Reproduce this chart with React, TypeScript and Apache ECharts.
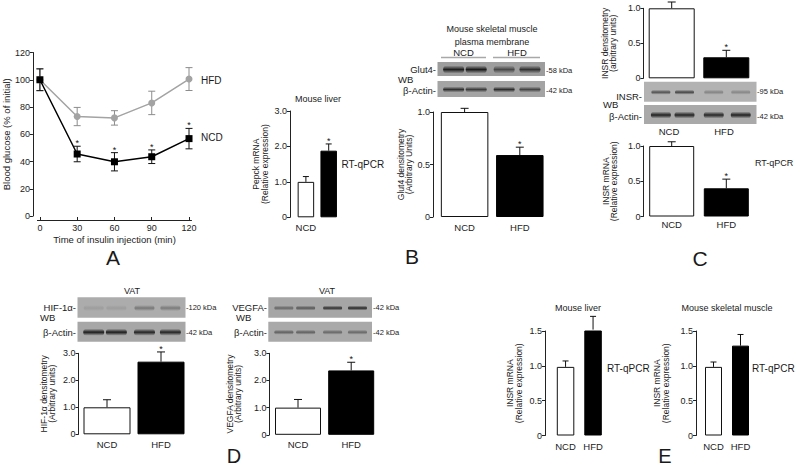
import React, { useEffect, useRef } from "react";
import * as echarts from "echarts";

const FONT = '"Liberation Sans", Arial, Helvetica, sans-serif';

// ---------- Panel A: insulin tolerance ----------
const timePoints = [0, 30, 60, 90, 120];
const timeTicks = [0, 30, 60, 90, 120];
const hfdGlucose = [100, 73, 72, 83, 100.5];
const hfdGlucoseSem = [8, 6.7, 5.3, 8.6, 8.4];
const ncdGlucose = [100, 45.5, 39.8, 43.5, 56.8];
const ncdGlucoseSem = [8, 5.7, 6.7, 5, 7.5];
const ncdGlucoseSig = [0, 1, 1, 1, 1];

// ---------- Bar panels ----------
const groups = ["NCD", "HFD"];
const pepckMean = [1.0, 1.88];
const pepckSem = [0.15, 0.19];
const pepckSig = [0, 1];
const glut4Mean = [1.0, 0.59];
const glut4Sem = [0.035, 0.075];
const glut4Sig = [0, 1];
const insrDensMean = [1.0, 0.3];
const insrDensSem = [0.09, 0.1];
const insrDensSig = [0, 1];
const insrMrnaMean = [1.0, 0.4];
const insrMrnaSem = [0.06, 0.13];
const insrMrnaSig = [0, 1];
const hifMean = [1.0, 2.69];
const hifSem = [0.28, 0.36];
const hifSig = [0, 1];
const vegfaMean = [1.0, 2.37];
const vegfaSem = [0.3, 0.3];
const vegfaSig = [0, 1];
const insrLiverMean = [0.985, 1.52];
const insrLiverSem = [0.085, 0.19];
const insrLiverSig = [0, 0];
const insrMuscleMean = [0.985, 1.29];
const insrMuscleSem = [0.07, 0.16];
const insrMuscleSig = [0, 0];

// ---------- Western blot band intensities (4 lanes: NCD, NCD, HFD, HFD) ----------
const laneFractions = [0.15, 0.36, 0.62, 0.86];
const glut4Bands = [0.92, 0.95, 0.62, 0.78];
const glut4ActinBands = [0.8, 0.72, 0.82, 0.66];
const insrBands = [0.62, 0.7, 0.3, 0.28];
const insrActinBands = [0.92, 0.9, 0.88, 0.92];
const hifBands = [0.1, 0.1, 0.35, 0.33];
const hifActinBands = [0.95, 0.95, 0.9, 0.9];
const vegfaBands = [0.45, 0.55, 0.82, 0.88];
const vegfaActinBands = [0.5, 0.5, 0.45, 0.45];

const fmt1 = (v: number) => (v === 0 ? "0" : v.toFixed(1));
const fmt0 = (v: number) => String(v);

function valueAxis(gridIndex: number, max: number, interval: number, offset: number, name: string, nameGap: number, formatter: any) {
  return {
    type: "value",
    gridIndex,
    min: 0,
    max,
    interval,
    offset,
    name,
    nameLocation: "middle",
    nameGap,
    nameRotate: 90,
    nameTextStyle: { fontFamily: FONT, fontSize: 8.5, color: "#222", lineHeight: 8.5 },
    axisLine: { show: true, onZero: false, lineStyle: { color: "#222", width: 1 } },
    axisTick: { show: true, length: 3, lineStyle: { color: "#222", width: 1 } },
    axisLabel: { fontFamily: FONT, fontSize: 9, color: "#222", margin: 3, formatter },
    splitLine: { show: false },
  };
}

function catAxis(gridIndex: number, showLabel: boolean, margin: number) {
  return {
    type: "category",
    gridIndex,
    data: groups,
    boundaryGap: true,
    axisLine: { show: false },
    axisTick: { show: false },
    axisLabel: { show: showLabel, margin, fontFamily: FONT, fontSize: 9.5, color: "#222" },
  };
}

function errRender(capHalf: number, color: string, twoSided: boolean) {
  return (params: any, api: any) => {
    const x = api.value(0);
    const lo = api.value(1);
    const hi = api.value(2);
    const star = api.value(3);
    const p0 = api.coord([x, lo]);
    const p1 = api.coord([x, hi]);
    const children: any[] = [
      { type: "line", shape: { x1: p0[0], y1: p0[1], x2: p1[0], y2: p1[1] }, style: { stroke: color, lineWidth: 1 } },
      { type: "line", shape: { x1: p1[0] - capHalf, y1: p1[1], x2: p1[0] + capHalf, y2: p1[1] }, style: { stroke: color, lineWidth: 1 } },
    ];
    if (twoSided) {
      children.push({ type: "line", shape: { x1: p0[0] - capHalf, y1: p0[1], x2: p0[0] + capHalf, y2: p0[1] }, style: { stroke: color, lineWidth: 1 } });
    }
    if (star) {
      children.push({
        type: "text",
        x: p1[0],
        y: p1[1] - 3,
        style: { text: "*", fontFamily: FONT, fontSize: 9, fill: "#111", align: "center", verticalAlign: "middle" },
      });
    }
    return { type: "group", children };
  };
}

function barSeries(gridIndex: number, means: number[], sems: number[], sig: number[], barWidth: number, capHalf: number) {
  return [
    {
      type: "bar",
      xAxisIndex: gridIndex,
      yAxisIndex: gridIndex,
      barWidth,
      data: means.map((m, i) => ({
        value: m,
        itemStyle: i === 0 ? { color: "#ffffff", borderColor: "#111", borderWidth: 1 } : { color: "#000", borderColor: "#000", borderWidth: 1 },
      })),
      z: 2,
    },
    {
      type: "custom",
      xAxisIndex: gridIndex,
      yAxisIndex: gridIndex,
      renderItem: errRender(capHalf, "#111", false),
      encode: { x: 0, y: [1, 2] },
      data: means.map((m, i) => [i, m, m + sems[i], sig[i]]),
      z: 1,
    },
  ];
}

function blot(x: number, y: number, w: number, h: number, bg: string, bands: number[], bandW: number, bandH: number) {
  const els: any[] = [{ type: "rect", silent: true, shape: { x, y, width: w, height: h }, style: { fill: bg } }];
  bands.forEach((v, i) => {
    const cx = x + w * laneFractions[i];
    const cy = y + h / 2 + 0.5;
    els.push({
      type: "rect",
      silent: true,
      shape: { x: cx - bandW / 2, y: cy - bandH / 2, width: bandW, height: bandH, r: bandH / 2 },
      style: {
        fill: {
          type: "linear",
          x: 0,
          y: 0,
          x2: 0,
          y2: 1,
          colorStops: [
            { offset: 0, color: "rgba(20,20,20,0)" },
            { offset: 0.5, color: `rgba(20,20,20,${v})` },
            { offset: 1, color: "rgba(20,20,20,0)" },
          ],
        },
      },
    });
  });
  return els;
}

function txt(text: string, x: number, y: number, align: string, size: number, extra: any = {}) {
  return {
    type: "text",
    silent: true,
    x,
    y,
    style: { text, fontFamily: FONT, fontSize: size, fill: "#1a1a1a", align, verticalAlign: "middle", ...extra },
  };
}

function line(x1: number, y1: number, x2: number, y2: number) {
  return { type: "line", silent: true, shape: { x1, y1, x2, y2 }, style: { stroke: "#a8a8a8", lineWidth: 1.5 } };
}

export default function App() {
  const ref = useRef<HTMLDivElement>(null);
  useEffect(() => {
    if (!ref.current) return;
    const chart = echarts.init(ref.current, undefined, { renderer: "svg" });

    const grids = [
      { left: 36.5, top: 52.5, width: 155, height: 163.5 }, // A
      { left: 294.5, top: 111, width: 45.6, height: 106.3 }, // B pepck
      { left: 437, top: 112, width: 110.4, height: 105 }, // B glut4
      { left: 644.4, top: 8.3, width: 109.2, height: 70 }, // C top
      { left: 644.4, top: 146, width: 109.2, height: 70.5 }, // C bottom
      { left: 80, top: 353.3, width: 108, height: 81 }, // D left
      { left: 271.4, top: 353.3, width: 106.4, height: 81.5 }, // D right
      { left: 551.8, top: 331, width: 55, height: 104.5 }, // E left
      { left: 700, top: 331, width: 54, height: 104.5 }, // E right
    ];

    const xAxes: any[] = [
      {
        type: "value",
        gridIndex: 0,
        min: -2,
        max: 122,
        offset: 4,
        name: "Time of insulin injection (min)",
        nameLocation: "middle",
        nameGap: 14,
        nameTextStyle: { fontFamily: FONT, fontSize: 9.5, color: "#222" },
        axisLine: { show: true, onZero: false, lineStyle: { color: "#222" } },
        axisTick: { show: true, inside: true, length: 3, customValues: timeTicks, lineStyle: { color: "#222" } },
        axisLabel: { fontFamily: FONT, fontSize: 9, color: "#222", margin: 3, customValues: timeTicks },
        splitLine: { show: false },
      },
      catAxis(1, true, 5),
      catAxis(2, true, 5),
      catAxis(3, false, 5),
      catAxis(4, true, 3),
      catAxis(5, true, 5),
      catAxis(6, true, 5),
      catAxis(7, true, 6),
      catAxis(8, true, 6),
    ];

    const yA: any = valueAxis(0, 120, 20, 4.5, "Blood glucose (% of initial)", 20, fmt0);
    yA.nameTextStyle = { fontFamily: FONT, fontSize: 9.5, color: "#222" };
    const yAxes: any[] = [
      yA,
      valueAxis(1, 3, 1, 4.5, "Pepck mRNA\n(Relative expression)", 21, fmt1),
      valueAxis(2, 1, 0.5, 4, "Glut4 densitometry\n(Arbitrary Units)", 15, fmt1),
      valueAxis(3, 1, 0.5, 1, "INSR densitometry\n(arbitrary units)", 26, fmt1),
      valueAxis(4, 1, 0.5, 1, "INSR mRNA\n(Relative expression)", 25, fmt1),
      valueAxis(5, 3, 1, 1.5, "HIF-1α densitometry\n(Arbitrary units)", 22, fmt1),
      valueAxis(6, 3, 1, 2, "VEGFA densitometry\n(Arbitrary units)", 27, fmt1),
      valueAxis(7, 1.5, 0.5, 6.8, "INSR mRNA\n(Relative expression)", 22, fmt1),
      valueAxis(8, 1.5, 0.5, 4, "INSR mRNA\n(Relative expression)", 26, fmt1),
    ];

    const series: any[] = [
      {
        type: "custom",
        xAxisIndex: 0,
        yAxisIndex: 0,
        renderItem: errRender(3.5, "#8c8c8c", true),
        encode: { x: 0, y: [1, 2] },
        data: timePoints.map((t, i) => [t, hfdGlucose[i] - hfdGlucoseSem[i], hfdGlucose[i] + hfdGlucoseSem[i], 0]),
        z: 1,
      },
      {
        type: "custom",
        xAxisIndex: 0,
        yAxisIndex: 0,
        renderItem: errRender(3.5, "#111", true),
        encode: { x: 0, y: [1, 2] },
        data: timePoints.map((t, i) => [t, ncdGlucose[i] - ncdGlucoseSem[i], ncdGlucose[i] + ncdGlucoseSem[i], ncdGlucoseSig[i]]),
        z: 1,
      },
      {
        type: "line",
        name: "HFD",
        xAxisIndex: 0,
        yAxisIndex: 0,
        data: timePoints.map((t, i) => [t, hfdGlucose[i]]),
        symbol: "circle",
        symbolSize: 7,
        itemStyle: { color: "#a3a3a3" },
        lineStyle: { color: "#a3a3a3", width: 1.5 },
        z: 3,
      },
      {
        type: "line",
        name: "NCD",
        xAxisIndex: 0,
        yAxisIndex: 0,
        data: timePoints.map((t, i) => [t, ncdGlucose[i]]),
        symbol: "rect",
        symbolSize: 7,
        itemStyle: { color: "#000" },
        lineStyle: { color: "#000", width: 1.5 },
        z: 4,
      },
      ...barSeries(1, pepckMean, pepckSem, pepckSig, 16.5, 3),
      ...barSeries(2, glut4Mean, glut4Sem, glut4Sig, 47.5, 4),
      ...barSeries(3, insrDensMean, insrDensSem, insrDensSig, 46, 4),
      ...barSeries(4, insrMrnaMean, insrMrnaSem, insrMrnaSig, 45, 4),
      ...barSeries(5, hifMean, hifSem, hifSig, 47, 4),
      ...barSeries(6, vegfaMean, vegfaSem, vegfaSig, 46, 4),
      ...barSeries(7, insrLiverMean, insrLiverSem, insrLiverSig, 17.5, 3),
      ...barSeries(8, insrMuscleMean, insrMuscleSem, insrMuscleSig, 17, 3),
    ];

    const graphics: any[] = [
      // Panel A
      txt("HFD", 201, 80, "left", 10),
      txt("NCD", 201, 137, "left", 10),
      txt("A", 113, 257, "center", 21),
      // Panel B
      txt("Mouse liver", 318, 99, "center", 9),
      txt("RT-qPCR", 341.5, 164, "left", 10),
      txt("Mouse skeletal muscle", 492, 29, "center", 9),
      txt("plasma membrane", 492, 42, "center", 9),
      txt("NCD", 463.5, 52, "center", 9.5),
      txt("HFD", 517, 52, "center", 9.5),
      line(441, 57.5, 486, 57.5),
      line(493, 57.5, 540, 57.5),
      ...blot(437.5, 62, 107.5, 14, "#9d9d9d", glut4Bands, 21, 8),
      ...blot(437.5, 81, 107.5, 16, "#a4a4a4", glut4ActinBands, 21, 6),
      txt("Glut4-", 436, 69, "right", 9.5),
      txt("WB", 398, 79, "left", 9.5),
      txt("β-Actin-", 436, 90, "right", 9.5),
      txt("-58 kDa", 546, 70, "left", 7.5),
      txt("-42 kDa", 546, 90, "left", 7.5),
      txt("B", 412, 256, "center", 21),
      // Panel C
      ...blot(644, 81.7, 112.5, 20, "#b2b2b2", insrBands, 19, 5),
      ...blot(644, 105, 112.5, 19, "#a9a9a9", insrActinBands, 20, 7),
      txt("INSR-", 642, 96, "right", 9.5),
      txt("WB", 603, 104, "left", 9.5),
      txt("β-Actin-", 642, 116, "right", 9.5),
      txt("-95 kDa", 757, 91, "left", 7.5),
      txt("-42 kDa", 757, 116, "left", 7.5),
      txt("NCD", 669, 131, "center", 9.5),
      txt("HFD", 724, 131, "center", 9.5),
      txt("RT-qPCR", 755, 163, "left", 9),
      txt("C", 700, 258, "center", 21),
      // Panel D
      txt("VAT", 132, 291, "center", 9),
      ...blot(77.5, 297.3, 108, 20.5, "#acacac", hifBands, 20, 6),
      ...blot(77.5, 321.7, 108, 20, "#a7a7a7", hifActinBands, 21, 7),
      txt("HIF-1α-", 76, 307, "right", 9.5),
      txt("WB", 40, 317, "left", 9.5),
      txt("β-Actin-", 76, 332, "right", 9.5),
      txt("-120 kDa", 186, 307, "left", 7.5),
      txt("-42 kDa", 186, 332, "left", 7.5),
      txt("VAT", 327, 291, "center", 9),
      ...blot(268.3, 297.3, 103.7, 20.5, "#a6a6a6", vegfaBands, 19, 5),
      ...blot(268.3, 321.7, 103.7, 20, "#a9a9a9", vegfaActinBands, 19, 5),
      txt("VEGFA-", 267, 307, "right", 9.5),
      txt("WB", 236, 317, "left", 9.5),
      txt("β-Actin-", 267, 332, "right", 9.5),
      txt("-42 kDa", 373, 307, "left", 7.5),
      txt("-42 kDa", 373, 332, "left", 7.5),
      txt("D", 234, 456, "center", 20),
      // Panel E
      txt("Mouse liver", 578, 308, "center", 9),
      txt("Mouse skeletal muscle", 727, 308, "center", 9),
      txt("RT-qPCR", 607, 368, "left", 10),
      txt("RT-qPCR", 752, 368, "left", 10),
      txt("E", 665, 456, "center", 20),
    ];

    chart.setOption({
      animation: false,
      backgroundColor: "#ffffff",
      textStyle: { fontFamily: FONT },
      grid: grids,
      xAxis: xAxes,
      yAxis: yAxes,
      series,
      graphic: { elements: graphics },
    });
    return () => chart.dispose();
  }, []);

  return <div ref={ref} style={{ position: "fixed", left: 0, top: 0, width: 796, height: 468 }} />;
}
